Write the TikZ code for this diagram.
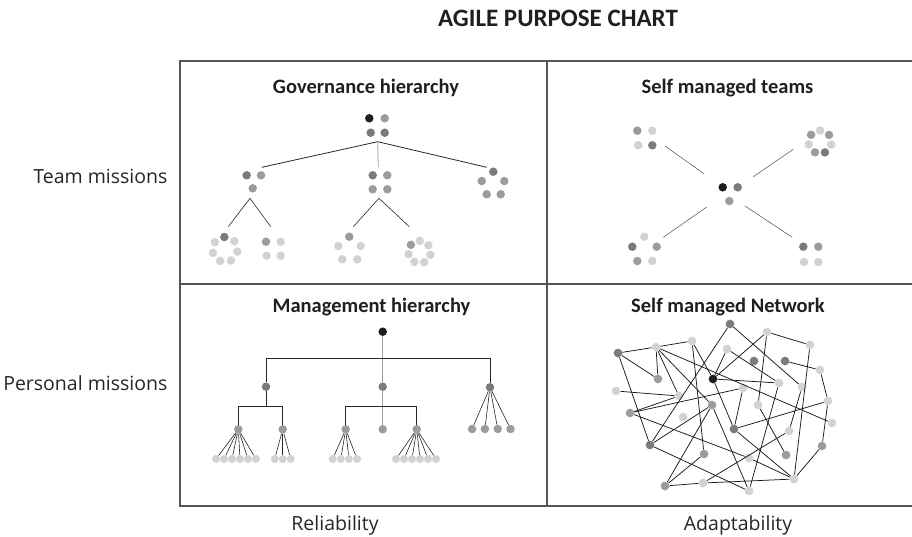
\documentclass[tikz,border=0pt]{standalone}
\usepackage{fontspec}
\setmainfont{Open Sans}
\newfontfamily\headfont{Carlito}
\usetikzlibrary{calc}
\definecolor{bk}{HTML}{1E1E1E}
\definecolor{dk}{HTML}{7B7B7B}
\definecolor{md}{HTML}{9C9C9C}
\definecolor{lt}{HTML}{D2D2D2}
\definecolor{framecol}{HTML}{555555}
\tikzset{dot/.style={circle, inner sep=0pt, minimum size=8.5pt}}
\tikzset{frame/.style={draw=framecol, line width=1.2pt}}
\tikzset{link/.style={draw=black!85, line width=0.8pt}}
\tikzset{fan/.style={draw=black!85, line width=0.6pt}}
\tikzset{net/.style={draw=black!90, line width=0.75pt}}
\tikzset{faint/.style={draw=black!70, line width=0.5pt}}
\tikzset{chead/.style={anchor=base, text=black!88, font=\headfont\bfseries\fontsize{20.5}{24}\selectfont}}
\tikzset{side/.style={anchor=base, text=black!85, font=\fontsize{19.5}{23}\selectfont}}

\begin{document}
\begin{tikzpicture}[x=1pt, y=-1pt]

    \useasboundingbox (0,0) rectangle (912,536);

    % frame
    \draw[frame] (180,61) rectangle (915,506);
    \draw[frame] (547,61) -- (547,506);
    \draw[frame] (180,284) -- (915,284);

    \node[anchor=base, text=black!88, font=\headfont\bfseries\fontsize{25}{30}\selectfont] (title) at (558,26) {AGILE PURPOSE CHART};

    \node[chead] (gov) at (366,93.3) {Governance hierarchy};
    \node[chead] (smt) at (727.5,93.3) {Self managed teams};
    \node[chead] (mgt) at (371.5,312) {Management hierarchy};
    \node[chead] (smn) at (728,312) {Self managed Network};

    \node[side, anchor=base east] (team) at (171,183) {Team missions};
    \node[side, anchor=base east] (pers) at (171,390.7) {Personal missions};
    \node[side] (rel) at (335,530.7) {Reliability};
    \node[side] (ada) at (738,530.7) {Adaptability};

    % governance hierarchy
    \node[dot, fill=bk] (gt1) at (369.3,118.3) {};
    \node[dot, fill=md] (gt2) at (384.7,118.3) {};
    \node[dot, fill=dk] (gt3) at (370.7,132.7) {};
    \node[dot, fill=dk] (gt4) at (384.7,132.7) {};

    \node[dot, fill=dk] (gl1) at (246.7,175.3) {};
    \node[dot, fill=md] (gl2) at (261,175.3) {};
    \node[dot, fill=md] (gl3) at (252.7,188.3) {};

    \node[dot, fill=dk] (gc1) at (372.7,175.3) {};
    \node[dot, fill=md] (gc2) at (387.3,175.3) {};
    \node[dot, fill=md] (gc3) at (372.7,189.3) {};
    \node[dot, fill=md] (gc4) at (387.3,189.3) {};

    \node[dot, fill=dk] (gr1) at (493.3,171.7) {};
    \node[dot, fill=md] (gr2) at (481.7,181) {};
    \node[dot, fill=md] (gr3) at (504.3,181) {};
    \node[dot, fill=md] (gr4) at (486.7,194.3) {};
    \node[dot, fill=md] (gr5) at (500.7,194.3) {};

    \foreach \i/\c in {0/dk,1/lt,2/lt,3/lt,4/lt,5/lt,6/lt}
        \node[dot, fill=\c] (gla\i) at ($(225,249.5)+({-93+51.43*\i}:12.5)$) {};
    \node[dot, fill=md] (glb1) at (266,241.7) {};
    \node[dot, fill=lt] (glb2) at (280.7,241.7) {};
    \node[dot, fill=lt] (glb3) at (266.7,255.7) {};
    \node[dot, fill=lt] (glb4) at (280.7,255.7) {};

    \node[dot, fill=md] (gca1) at (349.3,236.7) {};
    \node[dot, fill=lt] (gca2) at (338.3,246) {};
    \node[dot, fill=lt] (gca3) at (360.7,246) {};
    \node[dot, fill=lt] (gca4) at (342.3,259.3) {};
    \node[dot, fill=lt] (gca5) at (357.3,259.3) {};
    \foreach \i/\c in {0/md,1/lt,2/lt,3/lt,4/lt,5/lt,6/lt}
        \node[dot, fill=\c] (gcb\i) at ($(419.5,252)+({-140+51.43*\i}:11.2)$) {};

    \coordinate (g0) at (377.7,141.7);
    \coordinate (g0l) at (261.7,167.3);
    \coordinate (g0r) at (486.7,167.3);
    \coordinate (g0c) at (378.3,167.3);
    \draw[link] (g0l) -- (g0) -- (g0r);
    \draw[link, draw=md] (g0) -- (g0c);

    \coordinate (g1) at (250,198.3);
    \coordinate (g1a) at (228.3,226.7);
    \coordinate (g1b) at (270.7,226.7);
    \draw[fan] (g1a) -- (g1) -- (g1b);
    \coordinate (g2) at (379,198.3);
    \coordinate (g2a) at (353.3,226.7);
    \coordinate (g2b) at (409.3,226.7);
    \draw[fan] (g2a) -- (g2) -- (g2b);

    % self managed teams
    \node[dot, fill=bk] (s01) at (722.7,187.3) {};
    \node[dot, fill=dk] (s02) at (737.7,187.3) {};
    \node[dot, fill=md] (s03) at (729.3,201) {};

    \node[dot, fill=md] (sa1) at (637.3,130.7) {};
    \node[dot, fill=lt] (sa2) at (652.3,130.7) {};
    \node[dot, fill=lt] (sa3) at (638.3,145.3) {};
    \node[dot, fill=dk] (sa4) at (652.3,145.3) {};

    \foreach \i/\c in {0/md,1/lt,2/md,3/lt,4/dk,5/md,6/lt}
        \node[dot, fill=\c] (sb\i) at ($(820,142)+({-141+51.43*\i}:11.5)$) {};

    \node[dot, fill=lt] (sc1) at (644.3,236.7) {};
    \node[dot, fill=dk] (sc2) at (632.3,246.7) {};
    \node[dot, fill=md] (sc3) at (656.7,246.7) {};
    \node[dot, fill=md] (sc4) at (637.3,261) {};
    \node[dot, fill=lt] (sc5) at (652.3,261) {};

    \node[dot, fill=dk] (sd1) at (803.3,246.7) {};
    \node[dot, fill=md] (sd2) at (818.3,246.7) {};
    \node[dot, fill=lt] (sd3) at (804,262) {};
    \node[dot, fill=lt] (sd4) at (818.3,262) {};

    \coordinate (sa) at (665,146);
    \coordinate (sa0) at (704.3,174);
    \coordinate (sb) at (793.3,149.3);
    \coordinate (sb0) at (753.3,176.7);
    \coordinate (sc) at (663.3,237.3);
    \coordinate (sc0) at (706.7,207);
    \coordinate (sd) at (792.3,237.3);
    \coordinate (sd0) at (745,206);
    \draw[faint] (sa) -- (sa0);
    \draw[faint] (sb) -- (sb0);
    \draw[faint] (sc) -- (sc0);
    \draw[faint] (sd) -- (sd0);

    % management hierarchy
    \node[dot, fill=bk] (m0) at (382.7,331.7) {};
    \node[dot, fill=dk] (m1) at (266,386.7) {};
    \node[dot, fill=dk] (m2) at (382.7,386.7) {};
    \node[dot, fill=dk] (m3) at (490,387.3) {};

    \node[dot, fill=md] (m11) at (238.3,429.3) {};
    \node[dot, fill=md] (m12) at (282.7,429.3) {};
    \node[dot, fill=md] (m21) at (345.7,429.3) {};
    \node[dot, fill=md] (m22) at (382.7,429.3) {};
    \node[dot, fill=md] (m23) at (416.7,429.3) {};
    \foreach \i in {1,...,4}
        \node[dot, fill=md] (m3\i) at (459.3+12.8*\i,429) {};

    \foreach \i in {0,...,5}
        \node[dot, fill=lt, minimum size=8pt] (l11-\i) at (216+8*\i,459) {};
    \foreach \i in {0,...,2}
        \node[dot, fill=lt, minimum size=8pt] (l12-\i) at (274.7+8*\i,459) {};
    \foreach \i in {0,...,3}
        \node[dot, fill=lt, minimum size=8pt] (l21-\i) at (332.7+8.1*\i,459) {};
    \foreach \i in {0,...,5}
        \node[dot, fill=lt, minimum size=8pt] (l23-\i) at (396+8*\i,459) {};

    \draw[link, draw=md] (m0) -- (m2);
    \coordinate (mb) at (382.7,358.7);
    \draw[link] (m1) |- (mb) -| (m3);
    \coordinate (mb1) at (266,406.7);
    \draw[link] (m1) -- (mb1);
    \draw[link] (m11) |- (mb1) -| (m12);
    \coordinate (mb2) at (382.7,406.7);
    \draw[link, draw=md] (m2) -- (m22);
    \draw[link] (m21) |- (mb2) -| (m23);

    \foreach \i in {1,...,4}
        \draw[fan] (m3) -- (m3\i);
    \foreach \i in {0,...,5}
        \draw[fan] (m11) -- (l11-\i);
    \foreach \i in {0,...,2}
        \draw[fan] (m12) -- (l12-\i);
    \foreach \i in {0,...,3}
        \draw[fan] (m21) -- (l21-\i);
    \foreach \i in {0,...,5}
        \draw[fan] (m23) -- (l23-\i);

    % self managed network
    \foreach \i/\x/\y/\c in {1/730/324/dk, 2/767/332/lt, 3/810/345/lt, 4/692/341/lt,
        5/656/347/lt, 6/618/353/dk, 7/727/349/lt, 8/754/361/dk, 9/785/361/dk,
        10/820/370/lt, 11/658/379/md, 12/713/379/bk, 13/779/383/lt, 14/616/391/lt,
        15/743/388/lt, 16/802/387/lt, 17/679/396/lt, 18/828/401/lt, 19/712/405/md,
        20/758/405/lt, 21/630/413/md, 22/683/417/lt, 23/832/423/lt, 24/734/429/dk,
        25/789/431/lt, 26/650/445/dk, 27/822/446/md, 28/704/454/md, 29/749/458/lt,
        30/786/455/md, 31/794/479/lt, 32/665/486/md, 33/703/483/lt, 34/749/491/lt}
        \node[dot, fill=\c, minimum size=8.7pt] (n\i) at (\x,\y) {};

    \foreach \a/\b in {6/5, 5/4, 6/11, 6/26, 5/11, 5/17, 5/19, 5/23, 4/12, 4/28,
        1/26, 1/16, 2/3, 2/12, 2/20, 3/31, 7/12, 7/13, 9/10, 10/18, 12/13, 12/24,
        15/24, 14/17, 21/17, 21/15, 21/29, 19/26, 19/32, 19/34, 24/18, 24/31,
        13/34, 26/34, 20/30, 18/27, 27/31, 28/32, 32/33, 33/31, 25/33, 16/25, 29/31}
        \draw[net] (n\a) -- (n\b);

\end{tikzpicture}
\end{document}
